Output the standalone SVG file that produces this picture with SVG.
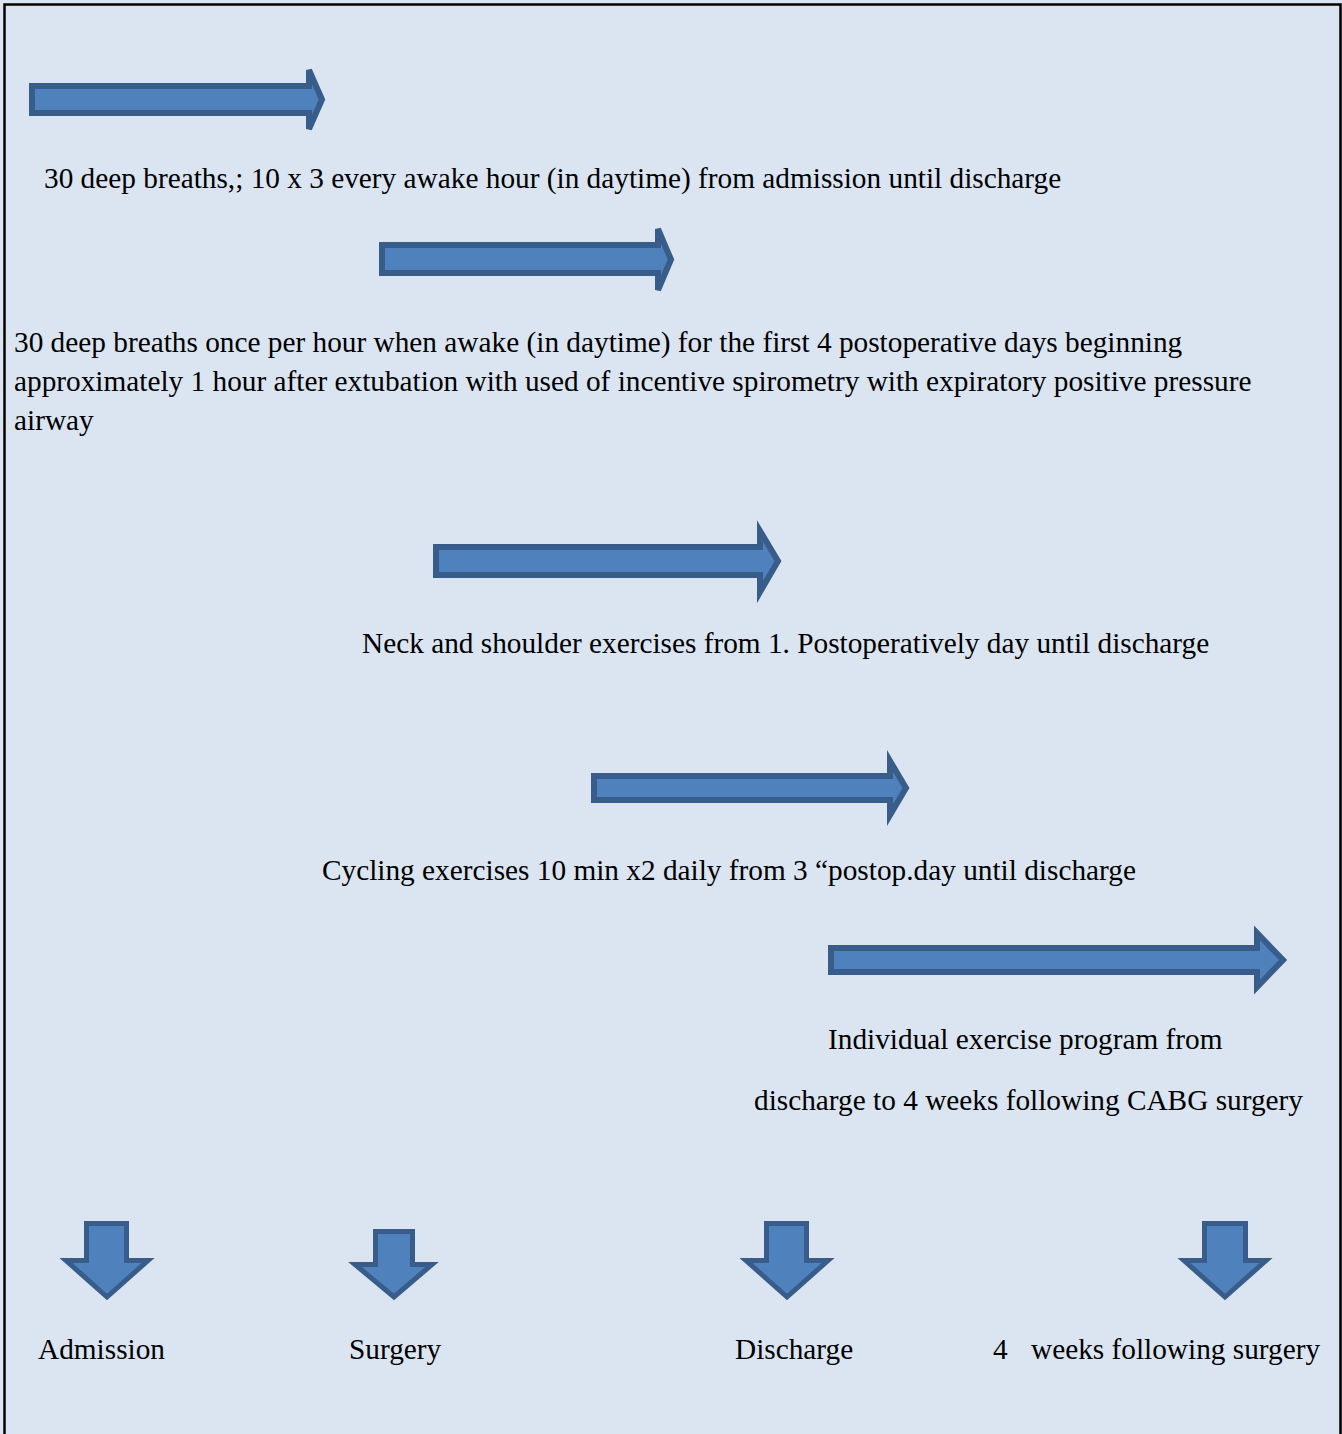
<svg xmlns="http://www.w3.org/2000/svg" width="1342" height="1434" viewBox="0 0 1342 1434">
<style>
  .bg { fill: #DBE5F1; }
  .frame { fill: none; stroke: #000; stroke-width: 2.5; }
  .harrow { fill: #4F81BD; stroke: #385D8A; stroke-width: 6; stroke-linejoin: miter; }
  .varrow { fill: #4F81BD; stroke: #385D8A; stroke-width: 5; stroke-linejoin: miter; }
  text { font-family: "Liberation Serif", "Times New Roman", serif; font-size: 29.3px; fill: #000; }
</style>
<rect class="bg" x="0" y="0" width="1342" height="1434"/>
<path class="frame" d="M4.5,1434 V4.5 H1340.5 V1434"/>

<g id="connectors">
  <path id="arrow-1" class="harrow" d="M32,86 H309 V70 L322,99.5 L309,129 V113 H32 Z"/>
  <path id="arrow-2" class="harrow" d="M382,245 H658 V229 L671,259.5 L658,290 V273 H382 Z"/>
  <path id="arrow-3" class="harrow" d="M436,547 H760 V531 L778,561 L760,592 V575 H436 Z"/>
  <path id="arrow-4" class="harrow" d="M594,776 H890 V761 L906,788 L890,815 V800 H594 Z"/>
  <path id="arrow-5" class="harrow" d="M831,948 H1257 V933 L1283,960 L1257,987 V972 H831 Z"/>
</g>

<g id="node-step1">
  <text x="44" y="188">30 deep breaths,; 10 x 3 every awake hour (in daytime) from admission until discharge</text>
</g>
<g id="node-step2">
  <text x="14" y="352">30 deep breaths once per hour when awake (in daytime) for the first 4 postoperative days beginning</text>
  <text x="14" y="391">approximately 1 hour after extubation with used of incentive spirometry with expiratory positive pressure</text>
  <text x="14" y="430">airway</text>
</g>
<g id="node-step3">
  <text x="362" y="653">Neck and shoulder exercises from 1. Postoperatively day until discharge</text>
</g>
<g id="node-step4">
  <text x="322" y="880">Cycling exercises 10 min x2 daily from 3 “postop.day until discharge</text>
</g>
<g id="node-step5">
  <text x="828" y="1049">Individual exercise program from</text>
  <text x="754" y="1110">discharge to 4 weeks following CABG surgery</text>
</g>

<g id="node-admission">
  <path class="varrow" d="M86.5,1223.5 H126.5 V1260.5 H148 L107,1297 L66,1260.5 H86.5 Z"/>
  <text x="38" y="1359">Admission</text>
</g>
<g id="node-surgery">
  <path class="varrow" d="M375.5,1231.5 H412.5 V1264.5 H432 L394,1297 L355,1264.5 H375.5 Z"/>
  <text x="349" y="1359">Surgery</text>
</g>
<g id="node-discharge">
  <path class="varrow" d="M766.5,1223.5 H806.5 V1260.5 H828 L787,1297 L746,1260.5 H766.5 Z"/>
  <text x="735" y="1359">Discharge</text>
</g>
<g id="node-4weeks">
  <path class="varrow" d="M1204.5,1223.5 H1245.5 V1260.5 H1266 L1225,1297 L1184,1260.5 H1204.5 Z"/>
  <text x="993" y="1359">4</text>
  <text x="1031" y="1359">weeks following surgery</text>
</g>
</svg>
